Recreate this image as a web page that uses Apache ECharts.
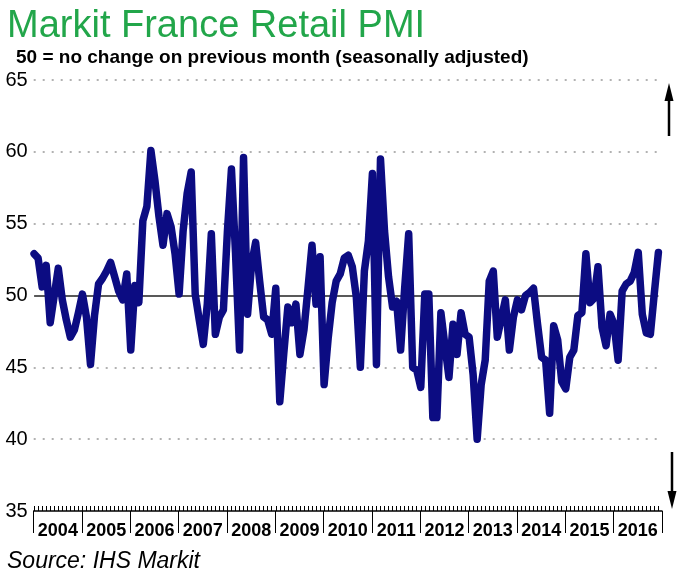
<!DOCTYPE html>
<html><head><meta charset="utf-8">
<script src="https://cdn.jsdelivr.net/npm/echarts@6/dist/echarts.min.js"></script>
<style>html,body{margin:0;padding:0;background:#fff}#c{width:680px;height:581px}</style>
</head><body><div id="c"></div>
<script>
// Year categories (tick labels of the lower axis)
const years = ['2004','2005','2006','2007','2008','2009','2010','2011','2012','2013','2014','2015','2016'];
// Monthly categories Jan 2004 .. Dec 2016
const months = [];
years.forEach(function (y) { for (let m = 1; m <= 12; m++) months.push(y + '-' + (m < 10 ? '0' + m : m)); });
// Markit France Retail PMI, monthly, seasonally adjusted
const pmi = [
  52.9, 52.6, 50.6, 52.1, 48.1, 50.0, 51.9, 49.7, 48.3, 47.1, 47.6, 48.8, // 2004
  50.1, 48.5, 45.2, 48.6, 50.8, 51.2, 51.7, 52.3, 51.3, 50.3, 49.7, 51.5, // 2005
  46.2, 50.7, 49.5, 55.2, 56.2, 60.1, 58.0, 55.5, 53.5, 55.7, 54.8, 52.9, // 2006
  50.1, 54.5, 57.1, 58.6, 50.1, 48.3, 46.6, 49.4, 54.3, 47.3, 48.5, 49.0, // 2007
  54.5, 58.8, 53.0, 46.2, 59.6, 48.7, 52.2, 53.7, 51.0, 48.5, 48.3, 47.3, // 2008
  50.5, 42.6, 46.0, 49.2, 48.1, 49.4, 45.9, 47.6, 50.5, 53.5, 49.4, 52.7, // 2009
  43.8, 47.0, 49.5, 51.0, 51.5, 52.6, 52.8, 52.0, 49.9, 45.0, 51.7, 53.8, // 2010
  58.5, 45.2, 59.5, 54.5, 51.3, 49.2, 49.6, 46.2, 50.5, 54.3, 45.0, 44.8, // 2011
  43.6, 50.1, 50.1, 41.5, 41.5, 48.8, 46.5, 44.3, 48.0, 45.9, 48.8, 47.3, // 2012
  47.1, 44.5, 40.0, 43.8, 45.5, 51.0, 51.7, 47.1, 48.4, 49.7, 46.2, 48.5, // 2013
  49.7, 49.0, 50.0, 50.2, 50.5, 48.0, 45.7, 45.5, 41.8, 47.9, 46.9, 44.0, // 2014
  43.5, 45.7, 46.2, 48.6, 48.8, 52.9, 49.5, 49.8, 52.0, 47.8, 46.5, 48.7, // 2015
  48.0, 45.5, 50.3, 50.8, 51.0, 51.6, 53.0, 48.7, 47.4, 47.3, 50.2, 53.0  // 2016
];
const yMin = 35, yMax = 65, yStep = 5;
const noChange = 50;

const chart = echarts.init(document.getElementById('c'));
const FONT = 'Liberation Sans, Arial, sans-serif';
chart.setOption({
  animation: false,
  textStyle: { fontFamily: FONT },
  title: [
    { text: 'Markit France Retail PMI', left: 2, top: 3,
      textStyle: { fontFamily: FONT, fontSize: 38, fontWeight: 'normal', color: '#22a64a' } },
    { text: '50 = no change on previous month (seasonally adjusted)', left: 11, top: 43,
      textStyle: { fontFamily: FONT, fontSize: 19, fontWeight: 'bold', color: '#000' } },
    { text: 'Source: IHS Markit', left: 2, top: 545,
      textStyle: { fontFamily: FONT, fontSize: 23, fontStyle: 'italic', fontWeight: 'normal', color: '#000' } }
  ],
  grid: [
    { left: 34.1, right: 21.6, top: 80, bottom: 70 },
    { left: 33.7, right: 18, top: 80, bottom: 70 }
  ],
  xAxis: [
    { type: 'category', gridIndex: 0, data: months, boundaryGap: false,
      axisLine: { show: false },
      axisTick: { show: true, inside: true, length: 5, interval: 0, lineStyle: { color: '#000', width: 1 } },
      axisLabel: { show: false }, splitLine: { show: false } },
    { type: 'category', gridIndex: 1, data: years, boundaryGap: true,
      axisLine: { show: true, lineStyle: { color: '#000', width: 1.5 } },
      axisTick: { show: true, length: 22, interval: 0, lineStyle: { color: '#000', width: 1 } },
      axisLabel: { interval: 0, margin: 11, fontSize: 18, fontWeight: 'bold', color: '#000', fontFamily: FONT },
      splitLine: { show: false } }
  ],
  yAxis: [
    { type: 'value', gridIndex: 0, min: yMin, max: yMax, interval: noChange - yMin,
      axisLine: { show: false }, axisTick: { show: false }, axisLabel: { show: false },
      splitLine: { show: true, lineStyle: { color: ['rgba(0,0,0,0)', '#222'], width: 1.5 } } },
    { type: 'value', gridIndex: 1, min: yMin, max: yMax, interval: yStep,
      axisLine: { show: false }, axisTick: { show: false },
      axisLabel: { fontSize: 20, color: '#000', margin: 6, fontFamily: FONT },
      splitLine: { show: true, lineStyle: {
        color: ['rgba(0,0,0,0)', '#999', '#999', 'rgba(0,0,0,0)', '#999', '#999', '#999'],
        type: [2, 7], width: 1.5 } } }
  ],
  series: [{
    type: 'line', xAxisIndex: 0, yAxisIndex: 0, data: pmi,
    symbol: 'none', showSymbol: false, z: 5,
    lineStyle: { color: '#0c0c82', width: 7.5, cap: 'round', join: 'round' }
  }],
  graphic: [
    { type: 'line', shape: { x1: 669, y1: 98, x2: 669, y2: 136 }, style: { stroke: '#000', lineWidth: 2.5 } },
    { type: 'polygon', shape: { points: [[669, 83], [664.5, 101], [673.5, 101]] }, style: { fill: '#000' } },
    { type: 'line', shape: { x1: 672, y1: 452, x2: 672, y2: 493 }, style: { stroke: '#000', lineWidth: 2.5 } },
    { type: 'polygon', shape: { points: [[672, 509], [667.5, 491], [676.5, 491]] }, style: { fill: '#000' } }
  ]
});
</script>
</body></html>
